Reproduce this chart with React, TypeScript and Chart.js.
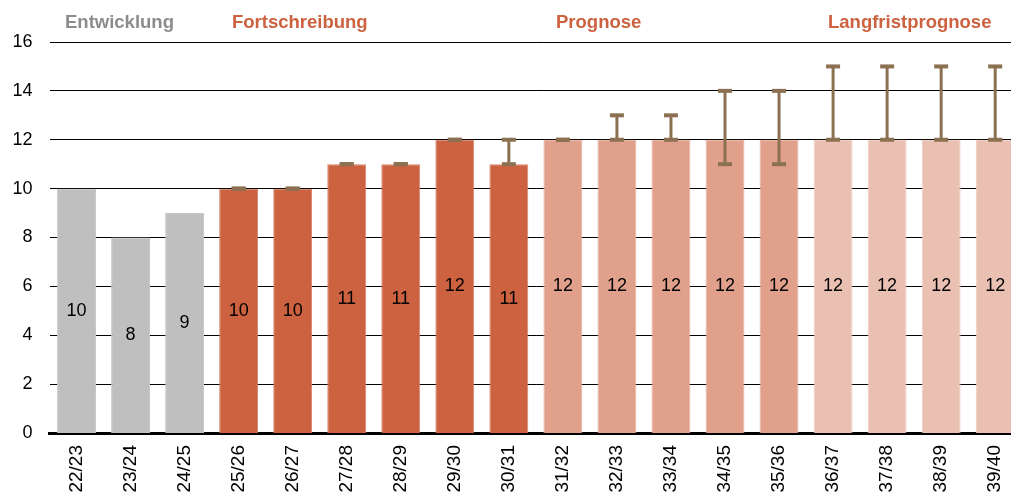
import React, { useEffect, useRef } from "react";
import { Chart, registerables } from "chart.js";

Chart.register(...registerables);

const categories = ["22/23", "23/24", "24/25", "25/26", "26/27", "27/28", "28/29", "29/30", "30/31", "31/32", "32/33", "33/34", "34/35", "35/36", "36/37", "37/38", "38/39", "39/40"];
const values = [10, 8, 9, 10, 10, 11, 11, 12, 11, 12, 12, 12, 12, 12, 12, 12, 12, 12];
const errLow: (number | null)[] = [null, null, null, 10, 10, 11, 11, 12, 11, 12, 12, 12, 11, 11, 12, 12, 12, 12];
const errHigh: (number | null)[] = [null, null, null, 10, 10, 11, 11, 12, 12, 12, 13, 13, 14, 14, 15, 15, 15, 15];
const phases = ["E", "E", "E", "F", "F", "F", "F", "F", "F", "P", "P", "P", "P", "P", "L", "L", "L", "L"];
const yTicks = [0, 2, 4, 6, 8, 10, 12, 14, 16];
const headers = ["Entwicklung", "Fortschreibung", "Prognose", "Langfristprognose"];

const phaseColor: Record<string, string> = { E: "#BFBFBF", F: "#CC6240", P: "#E0A08C", L: "#EAC0B3" };
const phaseBorder: Record<string, string> = { E: "#C8C8C8", F: "#D78468", P: "#E6B2A2", L: "#EECCC2" };
const headerStyle = [
  { x: 65, color: "#8C8C8C" },
  { x: 232, color: "#CC6240" },
  { x: 556, color: "#CC6240" },
  { x: 828, color: "#CC6240" },
];
const ERR_COLOR = "#8B7152";
const FONT = "'Liberation Sans', Arial, sans-serif";

const overlayPlugin = {
  id: "overlay",
  afterDatasetsDraw(chart: any) {
    const { ctx, scales } = chart;
    const xs = scales.x;
    const ys = scales.y;
    const meta = chart.getDatasetMeta(0);
    ctx.save();
    // value labels
    ctx.font = `18px ${FONT}`;
    ctx.fillStyle = "#000000";
    ctx.textAlign = "center";
    ctx.textBaseline = "middle";
    meta.data.forEach((bar: any, i: number) => {
      const yMid = ys.getPixelForValue(values[i] / 2);
      ctx.fillText(String(values[i]), bar.x, yMid);
    });
    // error bars
    ctx.strokeStyle = ERR_COLOR;
    ctx.fillStyle = ERR_COLOR;
    categories.forEach((_, i) => {
      const lo = errLow[i];
      const hi = errHigh[i];
      if (lo == null || hi == null) return;
      const x = xs.getPixelForValue(i);
      const yl = ys.getPixelForValue(lo);
      const yh = ys.getPixelForValue(hi);
      ctx.lineWidth = 3;
      if (yl !== yh) {
        ctx.beginPath();
        ctx.moveTo(x, yl);
        ctx.lineTo(x, yh);
        ctx.stroke();
      }
      ctx.fillRect(x - 7, yl - 2, 14, 4);
      ctx.fillRect(x - 7, yh - 2, 14, 4);
    });
    // headers
    ctx.font = `bold 18.5px ${FONT}`;
    ctx.textAlign = "left";
    ctx.textBaseline = "middle";
    headers.forEach((h, i) => {
      ctx.fillStyle = headerStyle[i].color;
      ctx.fillText(h, headerStyle[i].x, 23);
    });
    ctx.restore();
  },
};

export default function App() {
  const ref = useRef<HTMLCanvasElement>(null);
  useEffect(() => {
    if (!ref.current) return;
    const chart = new Chart(ref.current, {
      type: "bar",
      data: {
        labels: categories,
        datasets: [
          {
            data: values,
            backgroundColor: phases.map((p) => phaseColor[p]),
            borderColor: phases.map((p) => phaseBorder[p]),
            borderWidth: 1,
            barPercentage: 0.72,
            categoryPercentage: 1,
          },
        ],
      },
      options: {
        responsive: false,
        animation: false,
        events: [],
        layout: { padding: { top: 42, left: 0, right: 0, bottom: 0 } },
        plugins: { legend: { display: false }, tooltip: { enabled: false } },
        scales: {
          x: {
            grid: { display: false, drawTicks: false },
            border: { display: true, color: "#000000", width: 3 },
            ticks: {
              minRotation: 90,
              maxRotation: 90,
              autoSkip: false,
              padding: 12,
              color: "#000000",
              font: { family: FONT, size: 19 },
            },
            afterFit: (scale: any) => {
              scale.height = 62;
            },
          },
          y: {
            min: 0,
            max: 16,
            afterBuildTicks: (scale: any) => {
              scale.ticks = yTicks.map((v) => ({ value: v }));
            },
            grid: {
              color: "#000000",
              lineWidth: (c: any) => (c.tick && c.tick.value === 0 ? 0 : 1),
              drawTicks: false,
            },
            border: { display: false },
            ticks: {
              padding: 17,
              color: "#000000",
              font: { family: FONT, size: 18 },
            },
            afterFit: (scale: any) => {
              scale.width = 49.5;
            },
          },
        },
      },
      plugins: [overlayPlugin],
    });
    return () => chart.destroy();
  }, []);
  return (
    <div style={{ position: "fixed", left: 0, top: 0, width: 1011, height: 495, overflow: "hidden", background: "#ffffff" }}>
      <canvas ref={ref} width={1030} height={495} style={{ display: "block" }} />
    </div>
  );
}
